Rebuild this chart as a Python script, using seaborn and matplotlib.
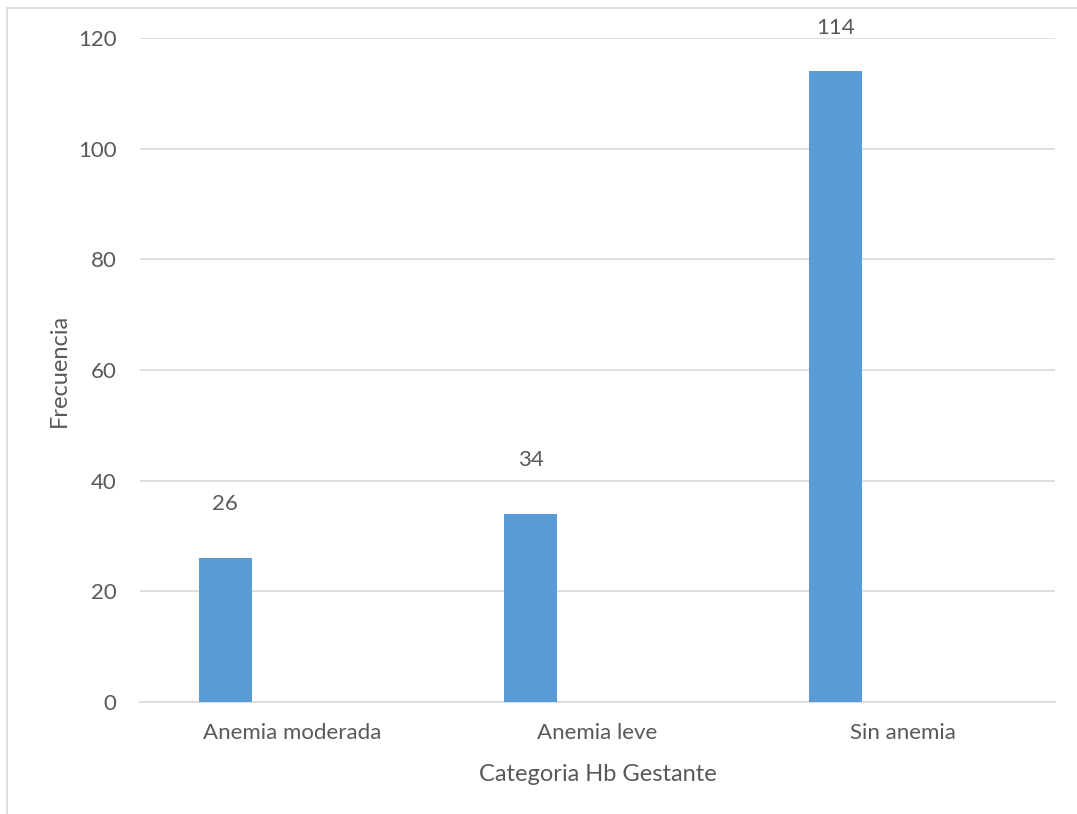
import matplotlib
matplotlib.use("Agg")
import matplotlib.pyplot as plt
import seaborn as sns
import pandas as pd
from matplotlib.patches import Rectangle

categorias = ["Anemia moderada", "Anemia leve", "Sin anemia"]
frecuencias = [26, 34, 114]
y_ticks = [0, 20, 40, 60, 80, 100, 120]

sns.set_theme(style="white")
plt.rcParams["font.family"] = ["Lato", "DejaVu Sans"]

text_color = "#595959"
grid_color = "#D9D9D9"
bar_color = "#5B9BD5"

fig = plt.figure(figsize=(10.77, 8.14), dpi=100)
W, H = 1077, 814
ax = fig.add_axes([140 / W, 1 - 702 / H, (1055 - 140) / W, (702 - 38) / H])

df = pd.DataFrame({"categoria": categorias, "frecuencia": frecuencias})
sns.barplot(data=df, x="categoria", y="frecuencia", color=bar_color,
            width=0.174, saturation=1, ax=ax, zorder=3)

# bars sit left of the category centre, as in a clustered column layout
for p in ax.patches:
    p.set_x(p.get_x() - 0.22)
    p.set_edgecolor("none")

ax.set_xlim(-0.5, 2.5)
ax.set_ylim(0, 120)
ax.set_yticks(y_ticks)
ax.yaxis.grid(True, color=grid_color, linewidth=1.2, zorder=0)
ax.set_axisbelow(True)
for s in ["top", "right", "left"]:
    ax.spines[s].set_visible(False)
ax.spines["bottom"].set_color(grid_color)
ax.spines["bottom"].set_linewidth(1.2)
ax.tick_params(axis="both", length=0, labelsize=16, labelcolor=text_color)
ax.tick_params(axis="x", pad=15)
ax.tick_params(axis="y", pad=17)

# value labels above each bar
for p, v in zip(ax.patches, frecuencias):
    cx = p.get_x() + p.get_width() / 2
    ax.text(cx, min(v + 9.8, 121.8), str(v), ha="center", va="center",
            fontsize=16, color=text_color, clip_on=False)

ax.set_xlabel("Categoria Hb Gestante", fontsize=17, color=text_color, labelpad=15)
ax.set_ylabel("Frecuencia", fontsize=17, color=text_color, labelpad=6)

# chart frame
fig.patches.append(Rectangle((7 / W, -0.1), 1.2, 1 - 8 / H + 0.1,
                             transform=fig.transFigure, fill=False,
                             edgecolor=grid_color, linewidth=1.2))

fig.savefig("out.png", dpi=100, facecolor="white")
